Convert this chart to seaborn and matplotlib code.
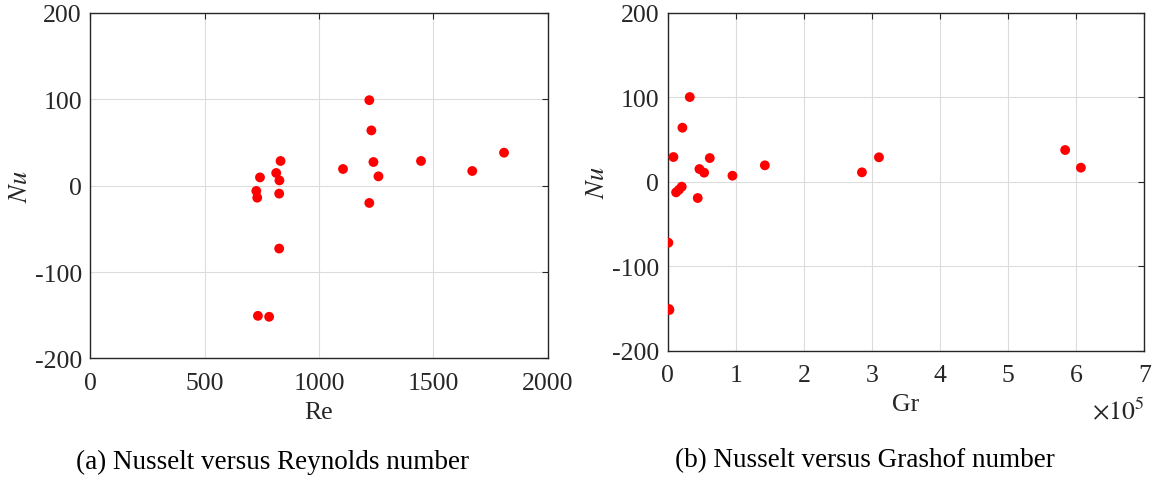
import numpy as np
import pandas as pd
import matplotlib
matplotlib.use("Agg")
import matplotlib.pyplot as plt
import seaborn as sns

# Panel (a): Nusselt vs Reynolds
re_values = [1220, 1229, 832, 813, 742, 827, 726, 730, 826, 826, 733, 782,
             1105, 1238, 1260, 1220, 1446, 1670, 1809]
nu_a = [99, 64, 28.6, 14.7, 9.6, 6.1, -6.1, -13.9, -9.2, -72.8, -150.7, -151.8,
        19.3, 27.4, 10.8, -20, 28.6, 17, 38.2]

# Panel (b): Nusselt vs Grashof (x 1e5)
gr_values = [0.324, 0.216, 0.084, 0.618, 0.466, 0.535, 0.951, 1.427, 0.206,
             0.165, 0.123, 0.441, 0.010, 0.020, 0.025, 2.853, 3.103, 5.838, 6.069]
nu_b = [100.2, 63.9, 29.2, 28.0, 15.0, 10.7, 7.1, 19.4, -5.9,
        -9.5, -12.6, -19.3, -72.2, -150.7, -151.8, 11.1, 28.9, 37.5, 16.6]

x_ticks_a = [0, 500, 1000, 1500, 2000]
x_ticks_b = [0, 1, 2, 3, 4, 5, 6, 7]
y_ticks = [-200, -100, 0, 100, 200]

sns.set_theme(style="white")
plt.rcParams["font.family"] = ["Liberation Serif", "DejaVu Serif"]
plt.rcParams["mathtext.fontset"] = "stix"

fig = plt.figure(figsize=(11.57, 4.81), dpi=100)
ax_a = fig.add_axes([0.078, 0.2528, 0.3954, 0.7182])
ax_b = fig.add_axes([0.5771, 0.2688, 0.4119, 0.7027])

df_a = pd.DataFrame({"Re": re_values, "Nu": nu_a})
df_b = pd.DataFrame({"Gr": gr_values, "Nu": nu_b})

sns.scatterplot(data=df_a, x="Re", y="Nu", ax=ax_a, color="#ff0000",
                s=50, edgecolor="none", zorder=3)
sns.scatterplot(data=df_b, x="Gr", y="Nu", ax=ax_b, color="#ff0000",
                s=50, edgecolor="none", zorder=3)

frame_col = "#262626"
for ax, xt, xl in [(ax_a, x_ticks_a, (0, 2000)), (ax_b, x_ticks_b, (0, 7))]:
    ax.set_xlim(*xl)
    ax.set_ylim(-200, 200)
    ax.set_xticks(xt)
    ax.set_yticks(y_ticks)
    ax.set_xticklabels([str(t) for t in xt])
    ax.set_yticklabels([str(t) for t in y_ticks])
    ax.grid(True, color="#dcdcdc", linewidth=0.8)
    ax.set_axisbelow(True)
    for sp in ax.spines.values():
        sp.set_visible(True)
        sp.set_color(frame_col)
        sp.set_linewidth(1.0)
    ax.tick_params(axis="both", which="both", direction="in", length=4,
                   width=0.8, color=frame_col, labelsize=18.5,
                   labelcolor="#262626", top=True, right=True, pad=6)
    ax.tick_params(axis="x", pad=9.5)
    ax.set_ylabel("$\\mathit{Nu}$", fontsize=19, color="#262626", labelpad=2)

ax_a.set_xlabel("Re", fontsize=18.5, color="#262626", labelpad=5.3)
ax_b.set_xlabel("Gr", fontsize=18.5, color="#262626", labelpad=5.3)

ax_b.text(1.0, -0.175, "$\\times10^{5}$", transform=ax_b.transAxes,
          ha="right", va="center", fontsize=18.5, color="#262626")

fig.text(272 / 1157, 1 - 462 / 481, "(a) Nusselt versus Reynolds number",
         ha="center", va="center", fontsize=19.5, color="black")
fig.text(865 / 1157, 1 - 461 / 481, "(b) Nusselt versus Grashof number",
         ha="center", va="center", fontsize=19.5, color="black")

fig.savefig("out.png", dpi=100)
